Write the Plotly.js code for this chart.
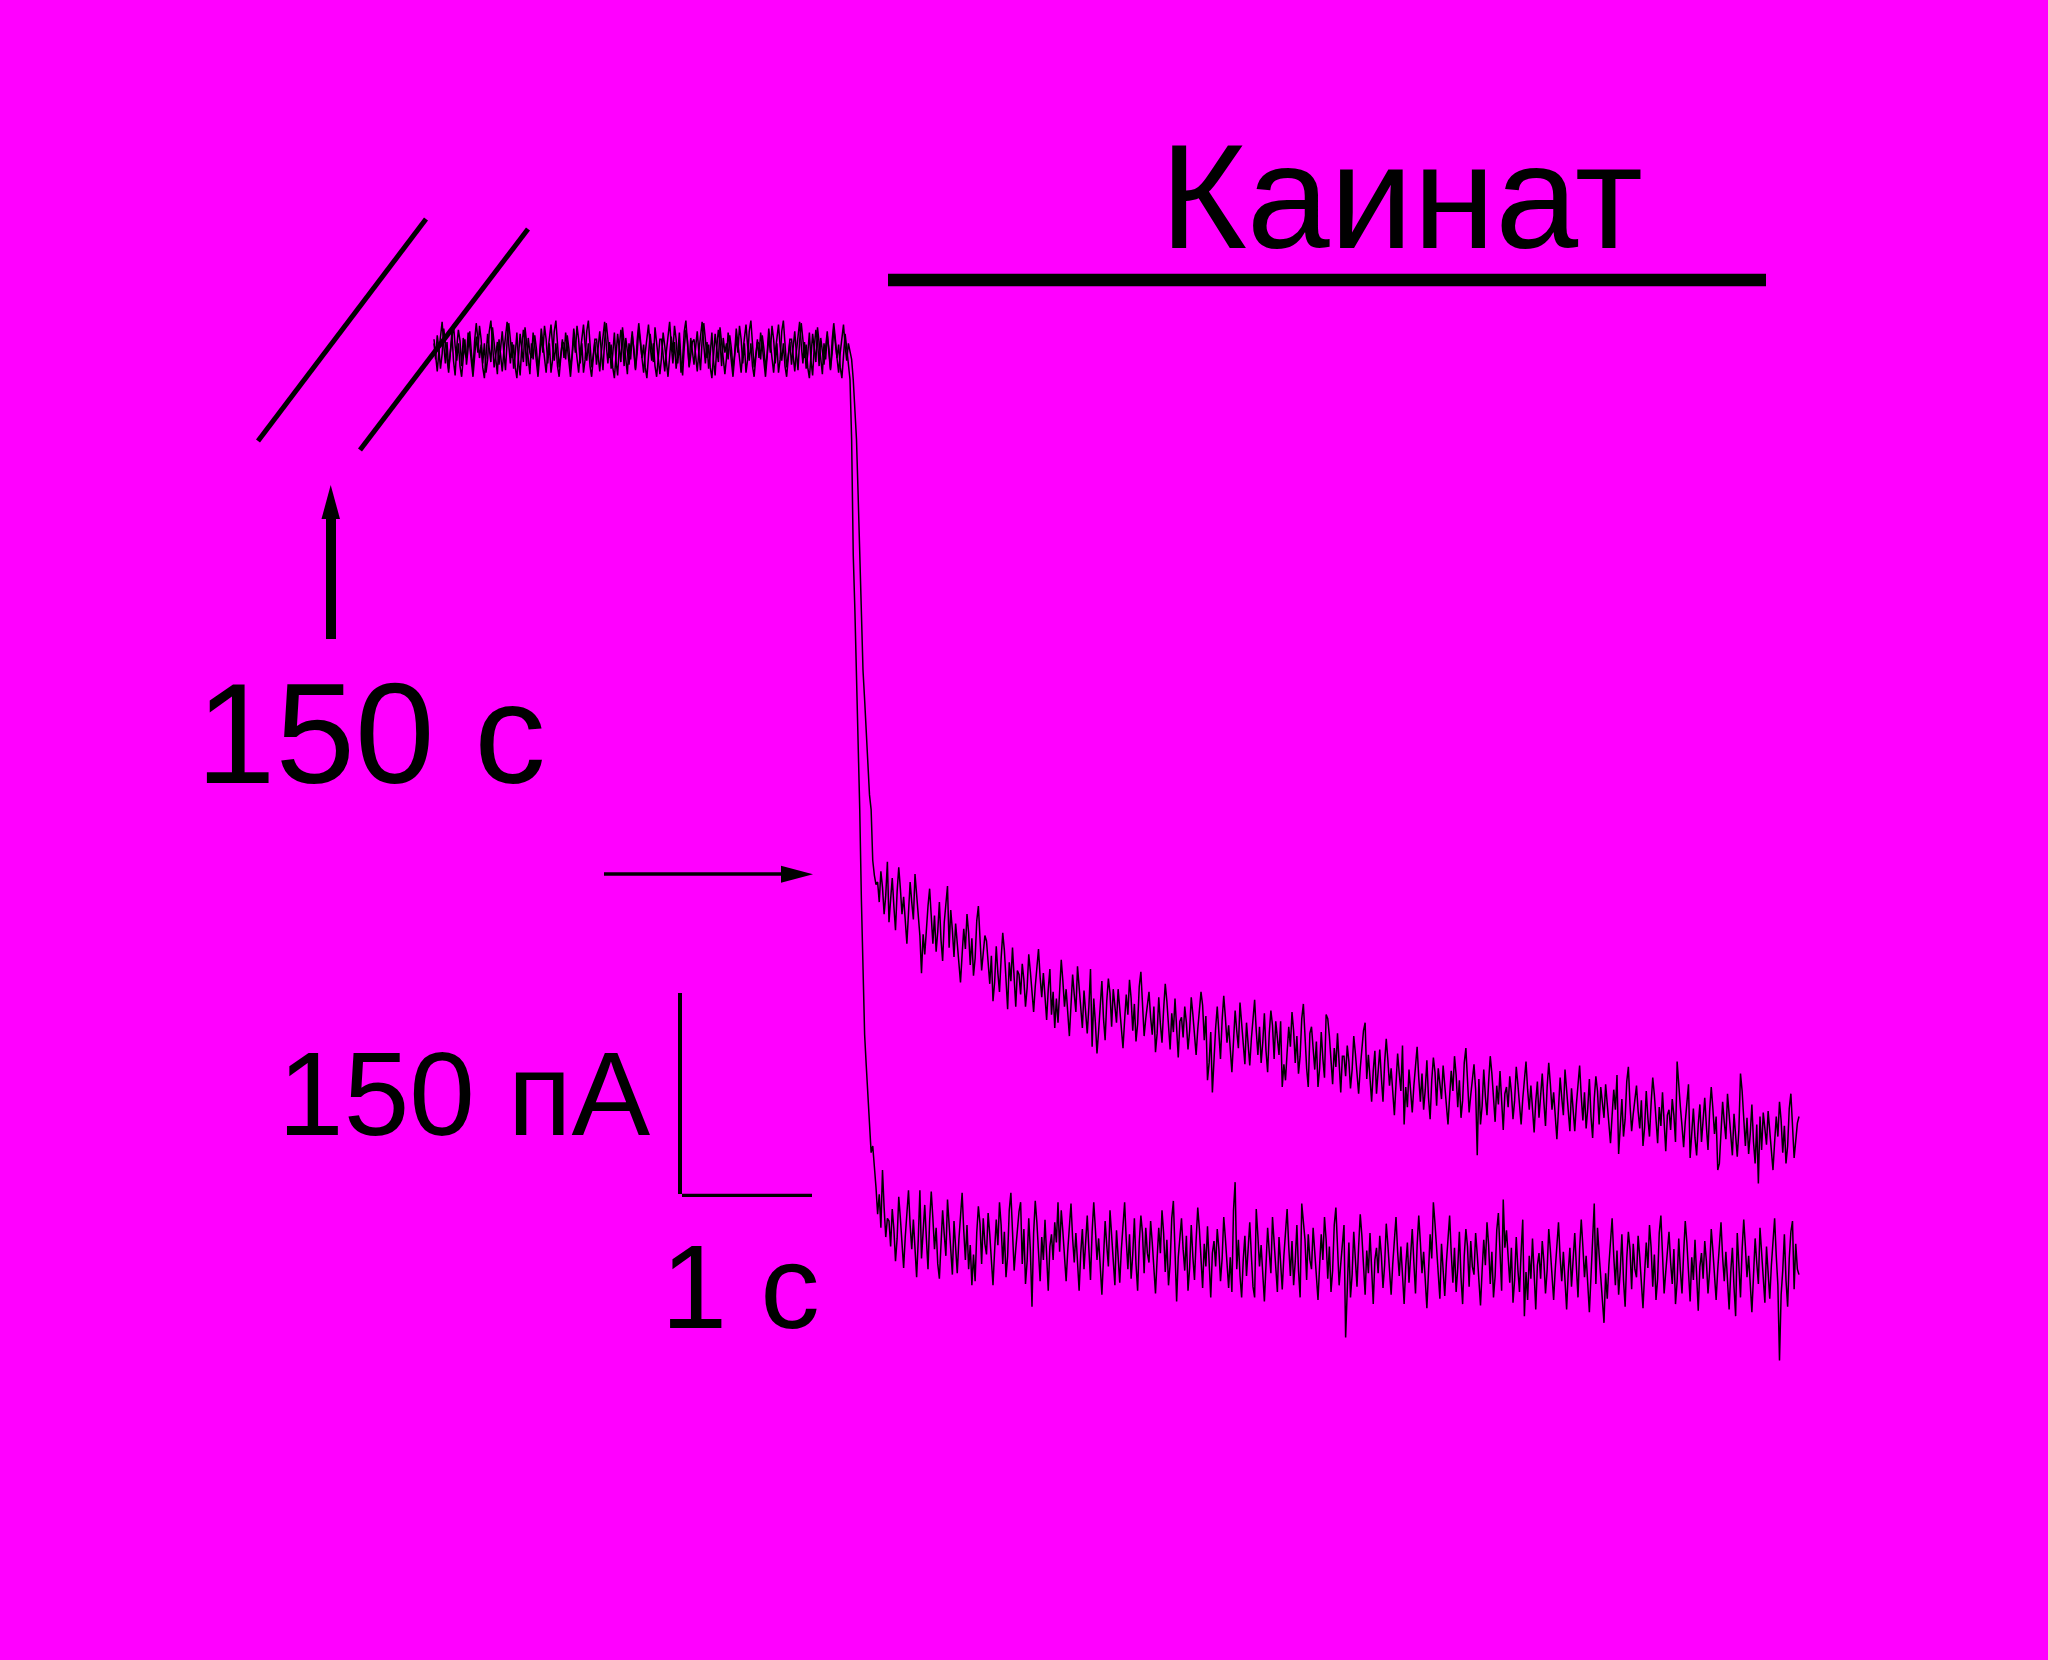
<!DOCTYPE html>
<html>
<head>
<meta charset="utf-8">
<script src="https://cdn.plot.ly/plotly-3.0.1.min.js"></script>
<style>
  html, body { margin: 0; padding: 0; background: #FF00FF; }
  #chart { width: 2048px; height: 1660px; }
</style>
</head>
<body>
<div id="chart"></div>
<script>
// ---------------- DATA ----------------
const sampleStep = 0.0125;  // s between samples
const traceStart = 0;       // s

// Trace A (upper after kainate), pA
const baselineA = [
  5,-7,11,1,-14,-3,16,6,-5,-17,-2,9,19,3,-8,5,-12,-20,-4,8,
  -11,2,14,-2,-15,7,20,8,-6,4,-13,-21,-5,12,1,-9,17,4,-7,-18,
  8,-5,-16,-1,11,21,4,-10,6,-14,-3,13,-8,-19,2,15,7,-12,9,-2,
  -6,13,3,-11,-20,-5,10,-2,18,8,-10,5,-17,-7,14,22,2,-13,-4,6,
  5,-7,11,1,-14,-3,16,6,-5,-17,-2,9,19,3,-8,5,-12,-20,-4,8,
  8,-5,-16,-1,11,21,4,-10,6,-14,-3,13,-8,-19,2,15,7,-12,9,-2,
  -11,2,14,-2,-15,7,20,8,-6,4,-13,-21,-5,12,1,-9,17,4,-7,-18,
  -6,13,3,-11,-20,-5,10,-2,18,8,-10,5,-17,-7,14,22,2,-13,-4,6,
  8,-5,-16,-1,11,21,4,-10,6,-14,-3,13,-8,-19,2,15,7,-12,9,-2,
  5,-7,11,1,-14,-3,16,6,-5,-17,-2,9,19,3,-8,5,-12,-20,-4,8,
  -6,13,3,-11,-20,-5,10,-2,18,8,-10,5,-17,-7,14,22,2,-13,-4,6,
  -11,2,14,-2,-15,7,20,8,-6,4,-13,-21,-5,12,1,-9,17,4,-7,-18,
  5,-7,11,1,-14,-3,16,6,-5,-17,-2,9,19,3,-8,5
];
const dropA = [-1,-7,-22,-41,-67,-108,-149,-194,-239,-261,-284,-310,-332,-343,-381,-392,-399];
const plateauA = [
  -397,-412,-389,-401,-421,-407,-382,
  -427,-410,-394,-415,-433,-404,-386,-402,-421,-408,-430,-443,-420,-397,-412,-425,-391,-407,-422,-437,
  -465,-436,-451,-431,-415,-402,-425,-443,-422,-449,-434,-412,-440,-456,-427,-410,-400,-446,-418,-433,
  -453,-428,-441,-460,-472,-451,-432,-447,-421,-435,-459,-439,-467,-454,-426,-415,-443,-463,-450,-437,
  -441,-460,-473,-452,-486,-472,-445,-465,-479,-454,-435,-448,-467,-492,-457,-471,-446,-468,-490,-463,
  -466,-481,-458,-470,-490,-476,-451,-464,-478,-494,-475,-460,-447,-468,-483,-465,-487,-500,-477,-462,
  -496,-479,-506,-484,-502,-473,-455,-471,-490,-477,-499,-512,-489,-466,-481,-494,-460,-476,-491,-506,
  -478,-495,-510,-490,-462,-520,-484,-502,-525,-508,-493,-471,-499,-515,-486,-469,-480,-505,-477,-492,
  -502,-477,-490,-509,-521,-500,-481,-496,-470,-484,-508,-488,-516,-503,-475,-464,-492,-512,-499,-486,
  -479,-498,-511,-490,-524,-510,-483,-503,-517,-492,-473,-486,-505,-522,-495,-509,-484,-506,-528,-501,
  -498,-513,-490,-502,-522,-508,-483,-496,-510,-526,-507,-492,-479,-489,-515,-497,-545,-532,-509,-554,
  -523,-506,-490,-511,-529,-500,-482,-498,-517,-504,-526,-539,-516,-493,-508,-521,-487,-503,-518,-533,
  -502,-519,-534,-514,-498,-485,-508,-526,-505,-532,-517,-495,-523,-539,-510,-493,-504,-529,-501,-516,
  -526,-501,-550,-533,-545,-524,-505,-520,-494,-508,-532,-512,-540,-527,-499,-488,-516,-536,-550,-510,
  -505,-524,-537,-516,-550,-536,-509,-529,-543,-496,-499,-512,-531,-548,-521,-535,-510,-532,-554,-527,
  -527,-542,-519,-531,-551,-537,-512,-525,-539,-555,-536,-521,-508,-502,-544,-526,-548,-561,-538,-523,
  -555,-538,-522,-543,-561,-532,-514,-530,-549,-536,-558,-571,-548,-525,-540,-553,-519,-578,-550,-565,
  -537,-554,-569,-549,-533,-520,-543,-561,-540,-567,-552,-530,-558,-574,-545,-528,-539,-564,-536,-551,
  -559,-534,-547,-566,-578,-557,-538,-553,-527,-541,-565,-545,-573,-560,-532,-521,-549,-569,-556,-543,
  -533,-552,-601,-544,-578,-564,-537,-557,-571,-546,-527,-540,-559,-576,-549,-563,-538,-560,-582,-555,
  -550,-565,-542,-554,-574,-560,-535,-548,-562,-578,-559,-544,-531,-552,-567,-549,-571,-584,-561,-546,
  -573,-556,-540,-561,-579,-550,-532,-548,-567,-554,-576,-589,-566,-543,-558,-571,-537,-553,-568,-583,
  -551,-568,-583,-563,-547,-534,-557,-575,-554,-581,-566,-544,-572,-588,-559,-542,-553,-578,-550,-565,
  -573,-548,-561,-580,-592,-571,-552,-567,-541,-600,-579,-559,-587,-574,-546,-535,-563,-583,-570,-557,
  -549,-568,-581,-560,-594,-580,-553,-573,-587,-562,-543,-556,-575,-592,-565,-579,-554,-576,-598,-571,
  -567,-582,-559,-571,-591,-531,-552,-565,-579,-595,-576,-561,-548,-603,-584,-566,-588,-601,-578,-563,
  -591,-574,-558,-579,-597,-568,-550,-566,-585,-572,-612,-607,-584,-561,-576,-589,-555,-571,-586,-601,
  -570,-587,-602,-582,-540,-553,-576,-594,-573,-600,-585,-563,-591,-607,-578,-622,-572,-597,-569,-584,
  -593,-568,-581,-600,-612,-591,-572,-587,-561,-575,-599,-579,-607,-594,-566,-555,-583,-603,-590,-577,-572
];

// Trace B (lower after kainate), pA
const baselineB = [
  8,-5,-16,-1,11,21,4,-10,6,-14,-3,13,-8,-19,2,15,7,-12,9,-2,
  -6,13,3,-11,-20,-5,10,-2,18,8,-10,5,-17,-7,14,22,2,-13,-4,6,
  -11,2,14,-2,-15,7,20,8,-6,4,-13,-21,-5,12,1,-9,17,4,-7,-18,
  5,-7,11,1,-14,-3,16,6,-5,-17,-2,9,19,3,-8,5,-12,-20,-4,8,
  -6,13,3,-11,-20,-5,10,-2,18,8,-10,5,-17,-7,14,22,2,-13,-4,6,
  -11,2,14,-2,-15,7,20,8,-6,4,-13,-21,-5,12,1,-9,17,4,-7,-18,
  5,-7,11,1,-14,-3,16,6,-5,-17,-2,9,19,3,-8,5,-12,-20,-4,8,
  8,-5,-16,-1,11,21,4,-10,6,-14,-3,13,-8,-19,2,15,7,-12,9,-2,
  -11,2,14,-2,-15,7,20,8,-6,4,-13,-21,-5,12,1,-9,17,4,-7,-18,
  -6,13,3,-11,-20,-5,10,-2,18,8,-10,5,-17,-7,14,22,2,-13,-4,6,
  5,-7,11,1,-14,-3,16,6,-5,-17,-2,9,19,3,-8,5,-12,-20,-4,8,
  8,-5,-16,-1,11,21,4,-10,6,-14,-3,13,-8,-19,2,15,7,-12,9,-2,
  -11,2,14,-2,-15,7,20,8,-6,4,-13,-21,-5,12,1,-9
];
const dropB = [-22,-67,-153,-194,-239,-284,-343,-410,-474,-511,-534,-556,-578,-599,-594,-608];
const plateauB = [
  -625,-645,-630,-655,-612,-640,-662,-648,
  -650,-669,-641,-656,-680,-663,-632,-648,-665,-685,-662,-643,-627,-653,-671,-649,-676,-692,-664,-627,
  -678,-657,-638,-663,-686,-650,-628,-648,-671,-655,-682,-693,-670,-642,-660,-676,-634,-654,-672,-690,
  -650,-670,-689,-664,-645,-629,-657,-679,-653,-686,-668,-698,-675,-695,-659,-639,-652,-682,-648,-667,
  -675,-644,-660,-683,-698,-672,-649,-668,-636,-653,-682,-658,-692,-676,-642,-629,-663,-687,-671,-655,
  -643,-636,-682,-656,-697,-680,-648,-672,-714,-659,-635,-651,-674,-695,-662,-679,-649,-675,-702,-669,
  -660,-679,-651,-666,-636,-673,-642,-658,-675,-695,-672,-653,-637,-663,-681,-659,-686,-702,-674,-656,
  -686,-665,-646,-671,-694,-658,-636,-656,-679,-663,-690,-705,-678,-650,-668,-684,-642,-662,-680,-698,
  -657,-677,-696,-671,-652,-636,-664,-686,-660,-693,-675,-648,-682,-702,-666,-646,-659,-689,-655,-674,
  -681,-650,-666,-689,-704,-678,-655,-674,-642,-659,-688,-664,-698,-682,-648,-635,-669,-710,-677,-661,
  -648,-671,-687,-661,-702,-685,-653,-677,-694,-664,-640,-656,-679,-700,-667,-684,-654,-680,-707,-674,
  -665,-684,-656,-671,-695,-678,-647,-663,-680,-700,-677,-703,-642,-621,-686,-664,-691,-707,-679,-661,
  -691,-670,-651,-676,-699,-707,-641,-661,-684,-668,-695,-710,-683,-655,-673,-689,-647,-667,-685,-703,
  -662,-682,-701,-676,-657,-641,-669,-691,-665,-698,-680,-653,-687,-707,-637,-651,-664,-694,-660,-679,
  -686,-655,-671,-694,-709,-683,-660,-679,-647,-664,-693,-669,-703,-687,-653,-640,-674,-698,-682,-666,
  -653,-737,-692,-666,-707,-690,-658,-682,-699,-669,-645,-661,-684,-705,-672,-689,-659,-685,-712,-679,
  -670,-689,-661,-676,-700,-683,-652,-668,-685,-705,-682,-663,-647,-673,-691,-669,-696,-712,-684,-666,
  -696,-675,-656,-681,-704,-668,-646,-666,-689,-673,-700,-715,-688,-660,-678,-636,-652,-672,-690,-708,
  -667,-687,-706,-681,-662,-646,-674,-696,-670,-703,-685,-658,-692,-712,-676,-656,-669,-699,-665,-684,
  -690,-659,-675,-698,-713,-687,-664,-683,-651,-668,-697,-673,-707,-691,-657,-644,-678,-702,-634,-670,
  -657,-680,-696,-670,-711,-694,-662,-686,-703,-673,-649,-721,-688,-709,-676,-693,-663,-689,-716,-683,
  -674,-693,-665,-680,-704,-687,-656,-672,-689,-709,-686,-667,-651,-677,-695,-673,-700,-716,-688,-670,
  -699,-678,-659,-684,-707,-671,-649,-669,-692,-676,-703,-718,-691,-663,-637,-697,-655,-675,-693,-711,
  -726,-689,-708,-683,-664,-648,-676,-698,-672,-705,-687,-660,-694,-714,-678,-658,-671,-701,-667,-686,
  -692,-661,-677,-700,-715,-689,-666,-685,-653,-670,-699,-675,-709,-693,-659,-646,-680,-704,-688,-672,
  -658,-681,-697,-671,-712,-695,-663,-687,-704,-674,-650,-666,-689,-710,-677,-694,-664,-690,-717,-684,
  -674,-693,-665,-680,-704,-687,-656,-672,-689,-709,-686,-667,-651,-677,-695,-673,-700,-716,-688,-670,
  -699,-721,-659,-684,-707,-671,-649,-669,-692,-676,-703,-718,-691,-663,-681,-697,-655,-675,-693,-711,
  -669,-689,-708,-683,-664,-648,-676,-698,-754,-705,-687,-660,-694,-714,-678,-658,-650,-701,-667,-686,-690
];

// Scale bars and labels
const scaleBarTime = 1;       // s
const scaleBarCurrent = 150;  // pA
const labelDrug = "Каинат";
const labelGap = "150 с";
const labelCurrent = "150 пА";
const labelTime = "1 с";

// ---------------- LAYOUT HELPERS ----------------
const W = 2048, H = 1660;
const PX_PER_S = 130, PX_PER_PA = 1.34;
const X0PX = 434, Y0PX = 350;           // pixel of t=0, I=0
const px = v => v / W;                   // pixel -> paper x
const py = v => 1 - v / H;               // pixel -> paper y
const dataT = v => (v - X0PX) / PX_PER_S;
const dataI = v => (Y0PX - v) / PX_PER_PA;

const yA = baselineA.concat(dropA, plateauA);
const yB = baselineB.concat(dropB, plateauB);

const lineStyle = {color: '#000000', width: 1.5};
const traces = [
  {type: 'scatter', mode: 'lines', x0: traceStart, dx: sampleStep, y: yA,
   line: lineStyle, hoverinfo: 'skip', showlegend: false},
  {type: 'scatter', mode: 'lines', x0: traceStart, dx: sampleStep, y: yB,
   line: lineStyle, hoverinfo: 'skip', showlegend: false}
];

const blk = '#000000';
const sb_t = dataT(682), sb_i = dataI(1194);
const shapes = [
  {type: 'line', xref: 'paper', yref: 'paper', x0: px(426), y0: py(219), x1: px(258), y1: py(441), line: {color: blk, width: 5}},
  {type: 'line', xref: 'paper', yref: 'paper', x0: px(528), y0: py(229), x1: px(360), y1: py(450), line: {color: blk, width: 5}},
  {type: 'rect', xref: 'paper', yref: 'paper', x0: px(326), x1: px(336), y0: py(516), y1: py(639), fillcolor: blk, line: {width: 0}},
  {type: 'path', xref: 'paper', yref: 'paper',
   path: `M ${px(330.7)} ${py(485)} L ${px(321.5)} ${py(519)} L ${px(340)} ${py(519)} Z`, fillcolor: blk, line: {width: 0}},
  {type: 'line', xref: 'paper', yref: 'paper', x0: px(604), y0: py(874), x1: px(784), y1: py(874), line: {color: blk, width: 3.7}},
  {type: 'path', xref: 'paper', yref: 'paper',
   path: `M ${px(781)} ${py(865.7)} L ${px(781)} ${py(882.7)} L ${px(813)} ${py(874.2)} Z`, fillcolor: blk, line: {width: 0}},
  {type: 'line', xref: 'paper', yref: 'paper', x0: px(888), y0: py(280), x1: px(1766), y1: py(280), line: {color: blk, width: 12.7}},
  {type: 'line', xref: 'x', yref: 'y', x0: dataT(680), x1: dataT(680), y0: sb_i, y1: sb_i + scaleBarCurrent, line: {color: blk, width: 4}},
  {type: 'line', xref: 'x', yref: 'y', x0: sb_t, x1: sb_t + scaleBarTime, y0: sb_i - 1, y1: sb_i - 1, line: {color: blk, width: 3.4}}
];

const fam = '"Liberation Sans", Arial, sans-serif';
const ann = (text, x, y, size, xanchor) => ({
  text: text, xref: 'paper', yref: 'paper', x: px(x), y: py(y),
  xanchor: xanchor || 'center', yanchor: 'middle', showarrow: false,
  font: {family: fam, size: size, color: blk}
});
const annotations = [
  ann(labelDrug, 1401, 196.4, 149),
  ann(labelGap, 371, 733.5, 143),
  ann(labelCurrent, 464, 1094, 118),
  ann(labelTime, 740.5, 1286.5, 119)
];

const layout = {
  width: W, height: H,
  margin: {l: 0, r: 0, t: 0, b: 0, pad: 0},
  paper_bgcolor: '#FF00FF', plot_bgcolor: '#FF00FF',
  xaxis: {range: [dataT(0), dataT(W)], visible: false, fixedrange: true},
  yaxis: {range: [dataI(H), dataI(0)], visible: false, fixedrange: true},
  shapes: shapes, annotations: annotations, showlegend: false
};

Plotly.newPlot('chart', traces, layout, {staticPlot: true, displayModeBar: false});
</script>
</body>
</html>
